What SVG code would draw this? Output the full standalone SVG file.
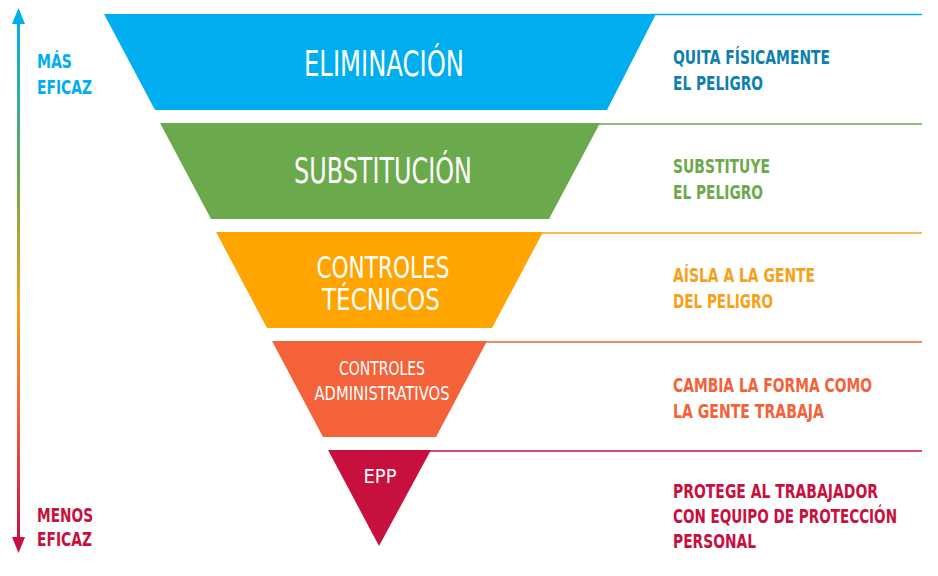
<svg xmlns="http://www.w3.org/2000/svg" width="938" height="576" viewBox="0 0 938 576">
<defs>
<linearGradient id="g" x1="0" y1="0" x2="0" y2="1">
<stop offset="0" stop-color="#00AEEF"/><stop offset="0.3" stop-color="#6BAA4C"/><stop offset="0.55" stop-color="#F7A11A"/><stop offset="0.75" stop-color="#F4623A"/><stop offset="1" stop-color="#C8103E"/>
</linearGradient>
</defs>
<style>
.t{font-family:"DejaVu Sans",sans-serif;fill:#fff;text-anchor:middle}
.r{font-family:"DejaVu Sans",sans-serif;font-weight:bold;font-size:19px}
</style>
<rect width="938" height="576" fill="#fff"/>
<g id="arrow">
<rect x="17" y="22" width="3" height="518" fill="url(#g)"/>
<polygon points="18.5,8 12,24 25,24" fill="#00AEEF"/>
<polygon points="18.5,553 12,537 25,537" fill="#C8103E"/>
<text class="r" x="37" y="68" fill="#00AEEF" textLength="35" lengthAdjust="spacingAndGlyphs">MÁS</text>
<text class="r" x="37" y="94" fill="#00AEEF" textLength="55" lengthAdjust="spacingAndGlyphs">EFICAZ</text>
<text class="r" x="37" y="522" fill="#C8103E" textLength="56" lengthAdjust="spacingAndGlyphs">MENOS</text>
<text class="r" x="37" y="546" fill="#C8103E" textLength="55" lengthAdjust="spacingAndGlyphs">EFICAZ</text>
</g>
<g id="connectors">
<line x1="650" y1="14.5" x2="922" y2="14.5" stroke="#00AEEF" stroke-width="1.5"/>
<line x1="595" y1="124" x2="922" y2="124" stroke="#6BAA4C" stroke-width="1.5"/>
<line x1="540" y1="233" x2="922" y2="233" stroke="#F7A11A" stroke-width="1.5"/>
<line x1="484" y1="342" x2="922" y2="342" stroke="#F4623A" stroke-width="1.5"/>
<line x1="428" y1="451" x2="922" y2="451" stroke="#C8103E" stroke-width="1.5"/>
</g>
<g id="n1">
<polygon points="104,14 656,14 607,110 155,110" fill="#00AEEF"/>
<text class="t" x="384" y="76" font-size="36" textLength="160" lengthAdjust="spacingAndGlyphs">ELIMINACIÓN</text>
<text class="r" x="673" y="64" fill="#0E7FB0" textLength="157" lengthAdjust="spacingAndGlyphs">QUITA FÍSICAMENTE</text>
<text class="r" x="673" y="90" fill="#0E7FB0" textLength="90" lengthAdjust="spacingAndGlyphs">EL PELIGRO</text>
</g>
<g id="n2">
<polygon points="160,123 600,123 549,219 211,219" fill="#6BAA4C"/>
<text class="t" x="383" y="183" font-size="36" textLength="178" lengthAdjust="spacingAndGlyphs">SUBSTITUCIÓN</text>
<text class="r" x="673" y="173" fill="#6BAA4C" textLength="97" lengthAdjust="spacingAndGlyphs">SUBSTITUYE</text>
<text class="r" x="673" y="199" fill="#6BAA4C" textLength="90" lengthAdjust="spacingAndGlyphs">EL PELIGRO</text>
</g>
<g id="n3">
<polygon points="216,232 543,232 492,328 267,328" fill="#FFA400"/>
<text class="t" x="383" y="278" font-size="30" textLength="133" lengthAdjust="spacingAndGlyphs">CONTROLES</text>
<text class="t" x="381" y="310" font-size="30" textLength="118" lengthAdjust="spacingAndGlyphs">TÉCNICOS</text>
<text class="r" x="673" y="282" fill="#F7A11A" textLength="142" lengthAdjust="spacingAndGlyphs">AÍSLA A LA GENTE</text>
<text class="r" x="673" y="308" fill="#F7A11A" textLength="100" lengthAdjust="spacingAndGlyphs">DEL PELIGRO</text>
</g>
<g id="n4">
<polygon points="272,341 487,341 436,437 323,437" fill="#F4623A"/>
<text class="t" x="382" y="375" font-size="19" textLength="86" lengthAdjust="spacingAndGlyphs">CONTROLES</text>
<text class="t" x="382" y="400" font-size="19" textLength="135" lengthAdjust="spacingAndGlyphs">ADMINISTRATIVOS</text>
<text class="r" x="673" y="392" fill="#F4623A" textLength="199" lengthAdjust="spacingAndGlyphs">CAMBIA LA FORMA COMO</text>
<text class="r" x="673" y="418" fill="#F4623A" textLength="151" lengthAdjust="spacingAndGlyphs">LA GENTE TRABAJA</text>
</g>
<g id="n5">
<polygon points="328,450 431,450 379,546" fill="#C8103E"/>
<text class="t" x="380" y="483" font-size="20" textLength="33" lengthAdjust="spacingAndGlyphs">EPP</text>
<text class="r" x="673" y="498" fill="#C8103E" textLength="205" lengthAdjust="spacingAndGlyphs">PROTEGE AL TRABAJADOR</text>
<text class="r" x="673" y="523" fill="#C8103E" textLength="224" lengthAdjust="spacingAndGlyphs">CON EQUIPO DE PROTECCIÓN</text>
<text class="r" x="673" y="548" fill="#C8103E" textLength="83" lengthAdjust="spacingAndGlyphs">PERSONAL</text>
</g>
</svg>
